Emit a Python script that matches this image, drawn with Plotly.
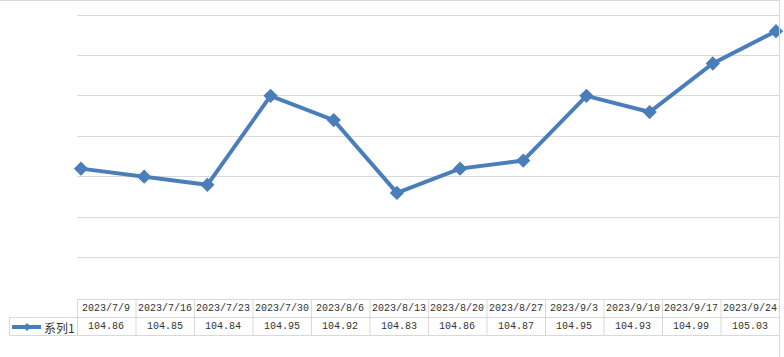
import plotly.graph_objects as go

dates = ["2023/7/9", "2023/7/16", "2023/7/23", "2023/7/30", "2023/8/6", "2023/8/13",
         "2023/8/20", "2023/8/27", "2023/9/3", "2023/9/10", "2023/9/17", "2023/9/24"]
values = [104.86, 104.85, 104.84, 104.95, 104.92, 104.83,
          104.86, 104.87, 104.95, 104.93, 104.99, 105.03]
series_name = "系列1"

W, H = 784, 357
BLUE = "#4A7EBB"
GRID = "#D9D9D9"
TXT = "#333333"


def px(x):
    return x / W


def py(y):
    return (H - y) / H


fig = go.Figure()
fig.add_trace(go.Scatter(
    x=list(range(len(dates))), y=values, mode="lines+markers",
    line=dict(color=BLUE, width=4),
    marker=dict(symbol="diamond", size=11, color=BLUE),
    cliponaxis=False,
    name=series_name, showlegend=False, hoverinfo="skip"))

# axes geometry
x_left, x_right = 77, 779
first_pt, last_pt = 81, 776
unit = (last_pt - first_pt) / (len(dates) - 1)
xr = [-(first_pt - x_left) / unit, len(dates) - 1 + (x_right - last_pt) / unit]

y_bot, y_top_grid = 298, 15
vmin, vtop = 104.70, 105.05
ppv = (y_bot - y_top_grid) / (vtop - vmin)
yr = [vmin, vtop + y_top_grid / ppv]

fig.update_layout(
    width=W, height=H, margin=dict(l=0, r=0, t=0, b=0),
    paper_bgcolor="white", plot_bgcolor="white",
    xaxis=dict(domain=[px(x_left), px(x_right)], range=xr, showgrid=False,
               showticklabels=False, zeroline=False, showline=False, ticks=""),
    yaxis=dict(domain=[py(y_bot), 1], range=yr, tick0=vmin, dtick=0.05,
               showgrid=True, gridcolor=GRID, gridwidth=1,
               showticklabels=False, zeroline=False, showline=False, ticks=""),
)

shapes = []
annots = []


def hline(x0, x1, y, color=GRID):
    shapes.append(dict(type="line", xref="paper", yref="paper",
                       x0=px(x0), x1=px(x1), y0=py(y), y1=py(y),
                       line=dict(color=color, width=1)))


def vline(x, y0, y1, color=GRID):
    shapes.append(dict(type="line", xref="paper", yref="paper",
                       x0=px(x), x1=px(x), y0=py(y0), y1=py(y1),
                       line=dict(color=color, width=1)))


# chart border
hline(0, 779.5, 0.5)
vline(779.5, 0, H)

# data table
r0, r1, r2 = 299.5, 317.5, 335.5
col_w = (x_right - x_left) / len(dates)
hline(x_left, x_right, r0)
hline(9.5, x_right, r1)
hline(9.5, x_right, r2)
vline(9.5, r1, r2)
for k in range(len(dates) + 1):
    vline(x_left + 0.5 + k * col_w, r0, r2)

for k, (d, v) in enumerate(zip(dates, values)):
    cx = x_left + (k + 0.5) * col_w
    annots.append(dict(x=px(cx), y=py((r0 + r1) / 2), xref="paper", yref="paper",
                       text=d, showarrow=False, xanchor="center", yanchor="middle",
                       font=dict(family="Liberation Mono", size=10, color=TXT)))
    annots.append(dict(x=px(cx), y=py((r1 + r2) / 2), xref="paper", yref="paper",
                       text=f"{v:.2f}", showarrow=False, xanchor="center", yanchor="middle",
                       font=dict(family="Liberation Mono", size=10, color=TXT)))

# legend key
ky = (r1 + r2) / 2 + 0.5
shapes.append(dict(type="line", xref="paper", yref="paper",
                   x0=px(12), x1=px(41), y0=py(ky), y1=py(ky),
                   line=dict(color=BLUE, width=4)))
d = 4
shapes.append(dict(type="path", xref="paper", yref="paper",
                   path=f"M {px(27-d)} {py(ky)} L {px(27)} {py(ky-d)} L {px(27+d)} {py(ky)} L {px(27)} {py(ky+d)} Z",
                   fillcolor=BLUE, line=dict(color=BLUE, width=0)))
annots.append(dict(x=px(42), y=py(ky), xref="paper", yref="paper", text=series_name,
                   showarrow=False, xanchor="left", yanchor="middle",
                   font=dict(family="Noto Sans CJK SC", size=12, color=TXT)))

fig.update_layout(shapes=shapes, annotations=annots)
fig.write_html("out.html", config={"displayModeBar": False},
               post_script="document.body.style.margin='0';document.body.style.overflow='hidden';")
